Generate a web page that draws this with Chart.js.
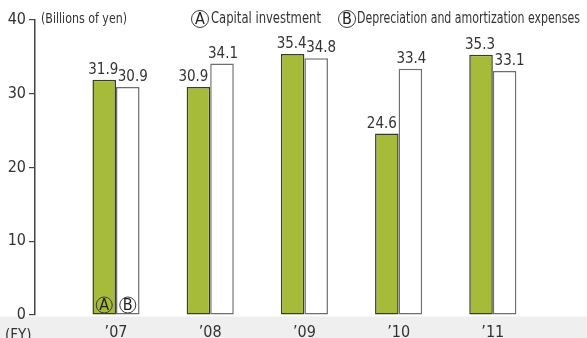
<!DOCTYPE html>
<html>
<head>
<meta charset="utf-8">
<script src="https://cdn.jsdelivr.net/npm/chart.js@4"></script>
<style>
  html, body { margin: 0; padding: 0; background: #fff; }
  #wrap { width: 587px; height: 338px; position: relative; }
</style>
</head>
<body>
<div id="wrap"><canvas id="capexChart"></canvas></div>
<script>
const years = ["\u201907", "\u201908", "\u201909", "\u201910", "\u201911"];
const capitalInvestment = [31.9, 30.9, 35.4, 24.6, 35.3];
const depreciation = [30.9, 34.1, 34.8, 33.4, 33.1];
const yTicks = [0, 10, 20, 30, 40];

const FONT = "'DejaVu Sans Condensed', 'DejaVu Sans', sans-serif";
const GREEN = "#a7bb3a";
const INK = "#333333";

Chart.defaults.font.family = FONT;
Chart.defaults.color = INK;

function toPoints(values) {
    return values.map((v, i) => ({ x: i, y: v }));
}

function circled(ctx, letter, cx, cy, r) {
    ctx.save();
    ctx.beginPath();
    ctx.arc(cx, cy, r, 0, Math.PI * 2);
    ctx.lineWidth = 1;
    ctx.strokeStyle = "#3a3a3a";
    ctx.stroke();
    ctx.fillStyle = "#222";
    ctx.font = "16px " + FONT;
    ctx.textAlign = "center";
    ctx.textBaseline = "middle";
    ctx.fillText(letter, cx, cy + 1);
    ctx.restore();
}

// grey strip under the axis, legend and unit captions
const decorations = {
    id: "decorations",
    beforeDraw(chart) {
        const ctx = chart.ctx;
        const bottom = chart.scales.y.getPixelForValue(0);
        ctx.save();
        ctx.fillStyle = "#efefef";
        ctx.fillRect(0, bottom + 1.5, chart.width, chart.height - bottom);
        ctx.restore();
    },
    afterDraw(chart) {
        const ctx = chart.ctx;
        ctx.save();
        ctx.fillStyle = INK;
        ctx.textBaseline = "middle";
        ctx.font = "14px " + FONT;
        ctx.fillText("(Billions of yen)", 41, 19, 86);
        ctx.font = "16px " + FONT;
        ctx.fillText("Capital investment", 211, 19, 110);
        ctx.fillText("Depreciation and amortization expenses", 357, 19, 223);
        ctx.textBaseline = "alphabetic";
        ctx.font = "15px " + FONT;
        ctx.fillText("(FY)", 5, 340, 33);
        ctx.restore();
        circled(ctx, "A", 200, 19, 8.5);
        circled(ctx, "B", 347, 19, 8.5);

        // series markers at the foot of the first pair
        const base = chart.scales.y.getPixelForValue(0) - 10;
        const a = chart.getDatasetMeta(0).data[0];
        const b = chart.getDatasetMeta(1).data[0];
        circled(ctx, "A", a.x, base, 8);
        circled(ctx, "B", b.x, base, 8);
    }
};

// value labels above each bar, nudged outward where the pair differs
const valueLabels = {
    id: "valueLabels",
    afterDatasetsDraw(chart) {
        const ctx = chart.ctx;
        ctx.save();
        ctx.fillStyle = INK;
        ctx.font = "15.5px " + FONT;
        ctx.textAlign = "center";
        ctx.textBaseline = "alphabetic";
        chart.data.datasets.forEach((ds, di) => {
            const other = chart.data.datasets[1 - di];
            const dir = di === 0 ? -1 : 1;
            chart.getDatasetMeta(di).data.forEach((bar, i) => {
                const v = ds.data[i].y;
                const shift = v < other.data[i].y ? 5 : 1;
                ctx.fillText(v.toFixed(1), bar.x + dir * shift, bar.y - 6, 30);
            });
        });
        ctx.restore();
    }
};

new Chart(document.getElementById("capexChart"), {
    type: "bar",
    data: {
        datasets: [
            {
                label: "Capital investment",
                data: toPoints(capitalInvestment),
                backgroundColor: GREEN,
                borderColor: "#3b3b26",
                borderWidth: 1.5,
                borderSkipped: false,
                categoryPercentage: 0.5,
                barPercentage: 1.0,
            },
            {
                label: "Depreciation and amortization expenses",
                data: toPoints(depreciation),
                backgroundColor: "#ffffff",
                borderColor: "#6e6e6e",
                borderWidth: 1.5,
                borderSkipped: false,
                categoryPercentage: 0.5,
                barPercentage: 1.0,
            },
        ],
    },
    options: {
        responsive: true,
        maintainAspectRatio: false,
        animation: false,
        layout: { padding: { top: 20, right: 0, left: 0, bottom: 0 } },
        scales: {
            x: {
                type: "linear",
                offset: false,
                min: -0.86,
                max: 5.0,
                afterBuildTicks(scale) {
                    scale.ticks = years.map((_, i) => ({ value: i }));
                },
                afterFit(scale) {
                    scale.height = 23;
                },
                grid: { display: false },
                border: { display: false },
                ticks: {
                    callback: (v) => years[v] ?? "",
                    font: { size: 16 },
                    color: INK,
                    padding: 0,
                    maxRotation: 0,
                },
            },
            y: {
                min: 0,
                max: 40,
                afterBuildTicks(scale) {
                    scale.ticks = yTicks.map((v) => ({ value: v }));
                },
                afterFit(scale) {
                    scale.width = 35;
                },
                grid: {
                    drawOnChartArea: false,
                    tickLength: 6,
                    color: "#444",
                    lineWidth: 1.2,
                },
                border: { color: "#444", width: 1.5 },
                ticks: {
                    font: { size: 16 },
                    color: INK,
                    padding: 3,
                },
            },
        },
        plugins: {
            legend: { display: false },
            tooltip: { enabled: false },
        },
    },
    plugins: [decorations, valueLabels],
});
</script>
</body>
</html>
